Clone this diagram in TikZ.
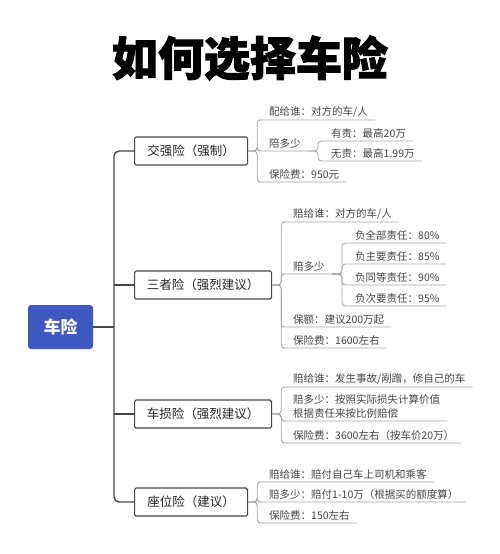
\documentclass[tikz,border=0pt]{standalone}
\usepackage{fontspec}
\setmainfont{Noto Sans CJK SC}
\newfontfamily\titlefont{Noto Sans CJK SC}[BoldFeatures={FakeBold=2}]
\usetikzlibrary{positioning}
\definecolor{rootblue}{HTML}{3F58BD}
\definecolor{trunk}{HTML}{474747}
\definecolor{leafline}{HTML}{A3A3A3}
\definecolor{leaftext}{HTML}{454545}
\tikzset{
  hdr/.style={font=\titlefont\bfseries\fontsize{46}{50}\selectfont,text=black},
  root/.style={fill=rootblue,rounded corners=3pt,text=white,
               font=\bfseries\fontsize{17}{20}\selectfont,
               minimum width=65pt,minimum height=44pt,inner sep=0pt},
  brbox/.style={draw=trunk,line width=1.2pt,fill=white,rounded corners=1.5pt,
                font=\fontsize{12.5}{15}\selectfont,text=black!85,
                minimum height=28pt,inner sep=0pt,anchor=west},
  lf/.style={anchor=south west,font=\fontsize{10.5}{14}\selectfont,text=leaftext,
             inner xsep=7pt,inner ysep=2.5pt,align=left},
  tk/.style={draw=trunk,line width=1.4pt,rounded corners=5pt},
  ln/.style={draw=leafline,line width=.8pt,rounded corners=3.5pt},
}
\begin{document}
\begin{tikzpicture}[x=1pt,y=-1pt]
  \useasboundingbox (0,0) rectangle (500,554);
  \node[hdr] (title) at (250,58){如何选择车险};
  \node[root] (car) at (60.5,327){车险};
  % branches
  \node[brbox,minimum width=113pt] (jq) at (134,151){交强险（强制）};
  \node[brbox,minimum width=137pt] (sz) at (134,285){三者险（强烈建议）};
  \node[brbox,minimum width=137pt] (cs) at (134,414){车损险（强烈建议）};
  \node[brbox,minimum width=113pt] (zw) at (134,502){座位险（建议）};
  \draw[tk] (jq.west) -- ++(-20,0) |- (zw.west);
  \draw[tk] (car.east) -- ++(21,0);
  \foreach \b in {sz,cs}
    \draw[tk] (\b.west) -- ++(-20,0);
  % 交强险
  \node[lf] (jq1) at (262,120){配给谁：对方的车/人};
  \node[lf] (jq2) at (262,151){陪多少};
  \node[lf] (jq3) at (262,182){保险费：950元};
  \foreach \l in {jq1,jq2,jq3}
    \draw[ln] (jq.east) -- ++(9,0) |- (\l.south west) -- (\l.south east);
  \node[lf] (jqa) at (324,141){有责：最高20万};
  \node[lf] (jqb) at (324,161){无责：最高1.99万};
  \foreach \l in {jqa,jqb}
    \draw[ln] (jq2.south east) -- ++(10,0) |- (\l.south west) -- (\l.south east);
  % 三者险
  \node[lf] (sz1) at (286,222){赔给谁：对方的车/人};
  \node[lf] (sz2) at (286,274){赔多少};
  \node[lf] (sz3) at (286,327){保额：建议200万起};
  \node[lf] (sz4) at (286,348){保险费：1600左右};
  \foreach \l in {sz1,sz2,sz3,sz4}
    \draw[ln] (sz.east) -- ++(9,0) |- (\l.south west) -- (\l.south east);
  \foreach \t/\y [count=\i] in {负全部责任：80\%/243,负主要责任：85\%/264,
                                负同等责任：90\%/285,负次要责任：95\%/306}{
    \node[lf] (szp\i) at (348,\y){\t};
    \draw[ln] (sz2.south east) -- ++(10,0) |- (szp\i.south west) -- (szp\i.south east);
  }
  % 车损险
  \node[lf] (cs1) at (286,387){赔给谁：发生事故/剐蹭，修自己的车};
  \node[lf] (cs2) at (286,421){赔多少：按照实际损失计算价值\\根据责任来按比例赔偿};
  \node[lf] (cs3) at (286,443){保险费：3600左右（按车价20万）};
  \foreach \l in {cs1,cs2,cs3}
    \draw[ln] (cs.east) -- ++(9,0) |- (\l.south west) -- (\l.south east);
  % 座位险
  \node[lf] (zw1) at (262,482){赔给谁：赔付自己车上司机和乘客};
  \node[lf] (zw2) at (262,502){赔多少：赔付1-10万（根据买的额度算）};
  \node[lf] (zw3) at (262,523){保险费：150左右};
  \foreach \l in {zw1,zw2,zw3}
    \draw[ln] (zw.east) -- ++(9,0) |- (\l.south west) -- (\l.south east);
\end{tikzpicture}
\end{document}
